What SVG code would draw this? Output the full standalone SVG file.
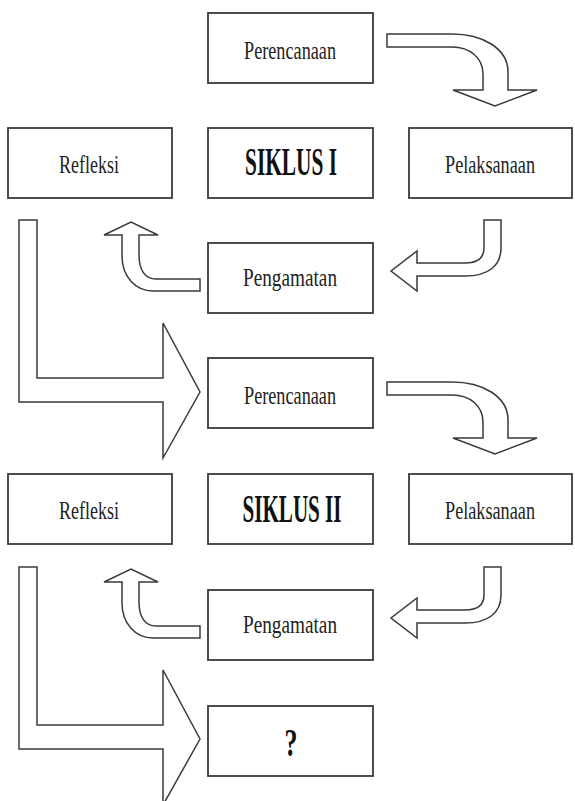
<svg xmlns="http://www.w3.org/2000/svg" width="575" height="801" viewBox="0 0 575 801">
<style>
.box{fill:#fff;stroke:#3a3a3a;stroke-width:1.8}
.arr{fill:#fff;stroke:#3a3a3a;stroke-width:1.5;stroke-linejoin:miter}
.t{font-family:"Liberation Serif","Times New Roman",serif;font-size:26px;fill:#222;text-anchor:middle}
.b{font-family:"Liberation Serif","Times New Roman",serif;font-size:40px;font-weight:bold;fill:#111;text-anchor:middle}
</style>
<defs>
<path id="aRight" d="M387,34 H452 C482,34 508,48 508,72 V90 H537 L495,106 L453,90 H483 V74 C483,58 470,47 452,47 H387 Z"/>
<path id="aLeft" d="M484,220 H501 V248 C501,266 488,276 465,276 H417 V291 L391,271 L417,251 V263 H465 C478,263 484,258 484,248 Z"/>
<path id="aUp" d="M200,279 V291 H153 C135,291 122,276 122,256 V235 H104 L131,222 L158,235 H139 V255 C139,270 145,279 156,279 Z"/>
<path id="aBig" d="M19,220 H37 V378 H163 V323 L200,392 L163,458 V402 H19 Z"/>
</defs>
<rect width="575" height="801" fill="#fff"/>
<g id="connectors">
<use href="#aRight" class="arr"/>
<use href="#aLeft" class="arr"/>
<use href="#aUp" class="arr"/>
<use href="#aBig" class="arr"/>
<use href="#aRight" class="arr" transform="translate(0,348)"/>
<use href="#aLeft" class="arr" transform="translate(0,347)"/>
<use href="#aUp" class="arr" transform="translate(0,347)"/>
<use href="#aBig" class="arr" transform="translate(0,347)"/>
</g>
<g id="perencanaan1"><rect class="box" x="208" y="13" width="165" height="70"/><text class="t" x="290" y="59" textLength="92" lengthAdjust="spacingAndGlyphs">Perencanaan</text></g>
<g id="refleksi1"><rect class="box" x="8" y="128" width="164" height="70"/><text class="t" x="89" y="173" textLength="60" lengthAdjust="spacingAndGlyphs">Refleksi</text></g>
<g id="siklus1"><rect class="box" x="208" y="128" width="165" height="70"/><text class="b" x="291" y="175" textLength="92" lengthAdjust="spacingAndGlyphs">SIKLUS I</text></g>
<g id="pelaksanaan1"><rect class="box" x="409" y="128" width="163" height="70"/><text class="t" x="490" y="173" textLength="90" lengthAdjust="spacingAndGlyphs">Pelaksanaan</text></g>
<g id="pengamatan1"><rect class="box" x="208" y="243" width="165" height="70"/><text class="t" x="290" y="286" textLength="94" lengthAdjust="spacingAndGlyphs">Pengamatan</text></g>
<g id="perencanaan2"><rect class="box" x="208" y="358" width="165" height="70"/><text class="t" x="290" y="404" textLength="92" lengthAdjust="spacingAndGlyphs">Perencanaan</text></g>
<g id="refleksi2"><rect class="box" x="8" y="474" width="164" height="70"/><text class="t" x="89" y="519" textLength="60" lengthAdjust="spacingAndGlyphs">Refleksi</text></g>
<g id="siklus2"><rect class="box" x="208" y="474" width="165" height="70"/><text class="b" x="292" y="522" textLength="99" lengthAdjust="spacingAndGlyphs">SIKLUS II</text></g>
<g id="pelaksanaan2"><rect class="box" x="409" y="474" width="163" height="70"/><text class="t" x="490" y="519" textLength="90" lengthAdjust="spacingAndGlyphs">Pelaksanaan</text></g>
<g id="pengamatan2"><rect class="box" x="208" y="590" width="165" height="70"/><text class="t" x="290" y="633" textLength="94" lengthAdjust="spacingAndGlyphs">Pengamatan</text></g>
<g id="next"><rect class="box" x="208" y="706" width="165" height="70"/><text class="b" x="291" y="756" textLength="13" lengthAdjust="spacingAndGlyphs">?</text></g>
</svg>
